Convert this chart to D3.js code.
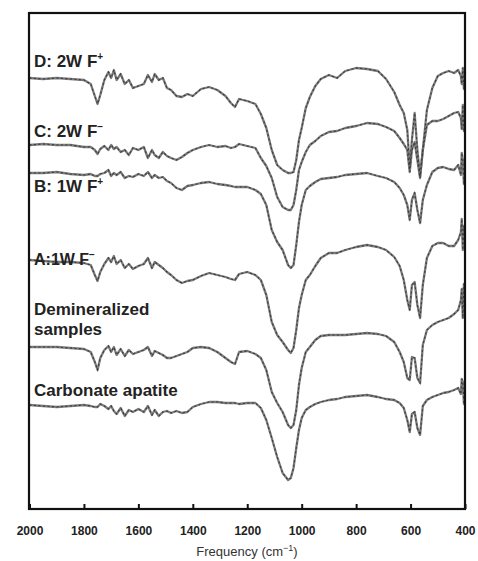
<!DOCTYPE html>
<html>
<head>
<meta charset="utf-8">
<script src="https://cdn.jsdelivr.net/npm/d3@7"></script>
<style>
  body { margin: 0; background: #fff; }
  svg { display: block; font-family: "Liberation Sans", Arial, sans-serif; }
</style>
</head>
<body>
<div id="chart"></div>
<script>
// wavenumber grid (cm-1), shared by all spectra
const wavenumbers = [2000, 1950, 1900, 1850, 1800, 1775, 1760, 1750, 1740, 1725,
  1710, 1700, 1690, 1680, 1665, 1650, 1635, 1620, 1600, 1580,
  1565, 1550, 1540, 1525, 1510, 1495, 1480, 1460, 1440, 1420,
  1400, 1370, 1340, 1310, 1280, 1260, 1245, 1230, 1200, 1170,
  1150, 1130, 1110, 1090, 1070, 1050, 1040, 1030, 1020, 1010,
  1000, 985, 970, 950, 930, 900, 870, 840, 800, 760,
  720, 690, 660, 640, 625, 612, 603, 595, 585, 575,
  565, 555, 540, 520, 500, 480, 460, 440, 425, 415,
  412, 408, 404, 400];

// transmittance, arbitrary units, spectra stacked with offsets
const seriesD = [431, 430, 431, 430, 429, 425, 413, 405, 414, 429,
  437, 431, 439, 429, 435, 425, 429, 421, 423, 425,
  434, 427, 435, 429, 431, 421, 419, 413, 412, 415,
  413, 420, 422, 419, 413, 406, 402, 410, 408, 405,
  395, 381, 359, 344, 339, 336, 336, 337, 349, 369,
  381, 401, 412, 423, 430, 434, 431, 438, 441, 440,
  438, 430, 417, 404, 396, 379, 341, 369, 396, 359,
  333, 359, 399, 421, 433, 436, 438, 436, 439, 433,
  425, 441, 420, 437];

const seriesC = [364, 365, 364, 364, 362, 362, 359, 355, 360, 363,
  359, 364, 360, 362, 357, 359, 354, 361, 359, 362,
  351, 359, 354, 351, 357, 353, 351, 349, 352, 356,
  359, 362, 364, 362, 363, 361, 362, 365, 363, 361,
  351, 343, 331, 312, 302, 299, 299, 304, 319, 339,
  347, 357, 364, 368, 373, 377, 378, 381, 383, 386,
  385, 382, 378, 371, 365, 359, 337, 359, 367, 349,
  331, 359, 384, 388, 388, 390, 393, 396, 397, 391,
  380, 404, 378, 389];

const seriesB = [336, 336, 337, 335, 334, 335, 333, 333, 335, 336,
  339, 333, 336, 334, 337, 331, 333, 332, 335, 333,
  337, 331, 334, 331, 332, 328, 326, 321, 319, 323,
  324, 326, 327, 325, 324, 323, 322, 322, 322, 319,
  315, 304, 279, 267, 259, 244, 241, 244, 264, 287,
  304, 319, 323, 327, 330, 331, 332, 334, 335, 336,
  333, 331, 327, 321, 314, 304, 289, 309, 316, 299,
  286, 309, 324, 337, 341, 342, 340, 339, 344, 334,
  356, 349, 325, 339];

const seriesA = [249, 248, 247, 247, 246, 244, 234, 228, 237, 245,
  251, 247, 253, 245, 249, 241, 245, 240, 243, 245,
  251, 241, 247, 244, 241, 237, 234, 229, 226, 228,
  229, 233, 236, 234, 232, 230, 229, 235, 237, 234,
  229, 214, 187, 174, 167, 159, 156, 161, 179, 201,
  214, 229, 234, 243, 251, 256, 256, 259, 262, 264,
  262, 259, 252, 243, 229, 209, 199, 224, 227, 204,
  191, 224, 251, 263, 266, 266, 263, 263, 269, 277,
  290, 259, 283, 271];

const seriesDemin = [162, 162, 162, 161, 160, 157, 147, 139, 151, 159,
  163, 157, 162, 154, 160, 153, 159, 155, 157, 159,
  162, 153, 158, 156, 154, 151, 151, 153, 155, 157,
  161, 162, 161, 157, 151, 147, 145, 157, 158, 155,
  151, 139, 117, 106, 97, 84, 81, 84, 99, 124,
  141, 157, 162, 169, 173, 174, 174, 174, 175, 176,
  175, 173, 167, 157, 147, 131, 129, 152, 151, 131,
  126, 164, 179, 184, 187, 189, 191, 195, 199, 209,
  220, 191, 225, 204];

const seriesCarb = [104, 103, 102, 103, 104, 103, 102, 102, 105, 103,
  100, 103, 98, 95, 101, 93, 99, 97, 100, 97,
  103, 94, 99, 93, 97, 98, 96, 98, 96, 97,
  102, 105, 107, 107, 106, 106, 106, 105, 106, 106,
  101, 89, 71, 52, 36, 29, 31, 41, 61, 79,
  91, 99, 102, 105, 107, 109, 110, 112, 113, 114,
  112, 110, 109, 106, 101, 89, 77, 95, 97, 81,
  74, 103, 109, 112, 114, 116, 117, 119, 121, 115,
  130, 127, 105, 111];

const allSeries = [seriesD, seriesC, seriesB, seriesA, seriesDemin, seriesCarb];

const xTicks = [2000, 1800, 1600, 1400, 1200, 1000, 800, 600, 400];

// sample labels: main text, superscript, baseline level in a.u.
const labelTexts = ["D: 2W F", "C: 2W F", "B: 1W F", "A:1W F"];
const labelSups = ["+", "\u2212", "+", "\u2212"];
const labelLevels = [442, 372, 317, 244];

const width = 478;
const height = 561;
const margin = { top: 13, right: 13, bottom: 52, left: 29 };

const x = d3.scaleLinear()
  .domain([2000, 400])
  .range([margin.left + 0.5, width - margin.right]);

const y = d3.scaleLinear()
  .domain([0, 496])
  .range([height - margin.bottom, margin.top]);

const svg = d3.select("#chart")
  .append("svg")
  .attr("width", width)
  .attr("height", height);

// spectra: grey body plus darker speckle on top
const line = d3.line()
  .x((d, i) => x(wavenumbers[i]))
  .y((d) => y(d));

svg.selectAll(".spectrum")
  .data(allSeries)
  .enter()
  .append("path")
  .attr("class", "spectrum")
  .attr("d", line)
  .style("fill", "none")
  .style("stroke", "#7a7a7a")
  .style("stroke-width", 2.3)
  .style("stroke-linejoin", "round");

svg.selectAll(".speckle")
  .data(allSeries)
  .enter()
  .append("path")
  .attr("class", "speckle")
  .attr("d", line)
  .style("fill", "none")
  .style("stroke", "#3a3a3a")
  .style("stroke-width", 1.1)
  .style("stroke-dasharray", "2,2.5");

// frame
svg.append("rect")
  .attr("x", margin.left)
  .attr("y", margin.top)
  .attr("width", width - margin.left - margin.right)
  .attr("height", height - margin.top - margin.bottom)
  .style("fill", "none")
  .style("stroke", "#111")
  .style("stroke-width", 2.2);

// x axis, ticks pointing inward
const xAxis = svg.append("g")
  .attr("transform", `translate(0,${height - margin.bottom})`)
  .call(d3.axisBottom(x)
    .tickValues(xTicks)
    .tickFormat(d3.format("d"))
    .tickSize(-5)
    .tickPadding(17));

xAxis.select(".domain").remove();
xAxis.selectAll(".tick line").style("stroke", "#111").style("stroke-width", 2);
xAxis.selectAll(".tick text")
  .style("font-size", "12px")
  .style("font-weight", "bold")
  .style("fill", "#222")
  .style("font-family", "'Liberation Sans', Arial, sans-serif");

// axis title
const title = svg.append("text")
  .attr("x", 247)
  .attr("y", 556)
  .attr("text-anchor", "middle")
  .style("font-size", "13px")
  .style("fill", "#333")
  .text("Frequency (cm");
title.append("tspan").attr("dy", -5).style("font-size", "9px").text("\u22121");
title.append("tspan").attr("dy", 5).text(")");

// sample labels
labelTexts.forEach((t, i) => {
  const txt = svg.append("text")
    .attr("x", 34)
    .attr("y", y(labelLevels[i]))
    .style("font-size", i === 3 ? "16px" : "17px")
    .style("font-weight", "bold")
    .style("fill", "#222")
    .text(t);
  txt.append("tspan")
    .attr("dy", -7)
    .style("font-size", "10px")
    .text(labelSups[i]);
});

svg.append("text")
  .attr("x", 34)
  .attr("y", y(194))
  .style("font-size", "17px")
  .style("font-weight", "bold")
  .style("fill", "#222")
  .text("Demineralized");

svg.append("text")
  .attr("x", 34)
  .attr("y", y(174))
  .style("font-size", "17px")
  .style("font-weight", "bold")
  .style("fill", "#222")
  .text("samples");

svg.append("text")
  .attr("x", 34)
  .attr("y", y(113))
  .style("font-size", "17px")
  .style("font-weight", "bold")
  .style("fill", "#222")
  .text("Carbonate apatite");
</script>
</body>
</html>
